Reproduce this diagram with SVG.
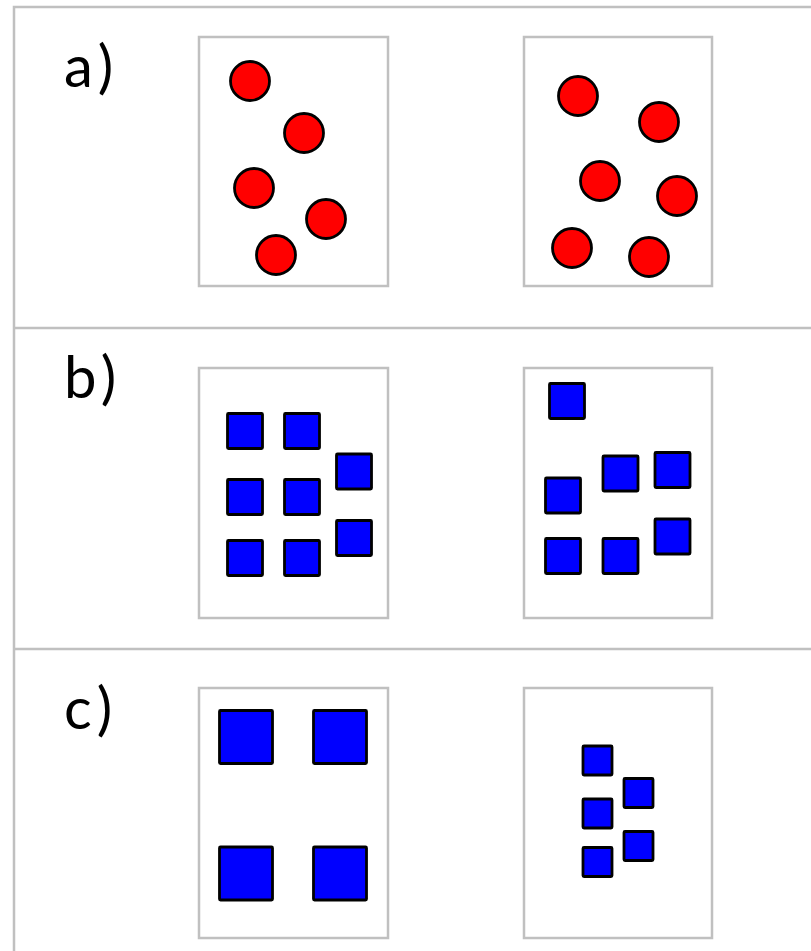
<svg xmlns="http://www.w3.org/2000/svg" width="811" height="951" viewBox="0 0 811 951">
<style>
.frame{fill:none;stroke:#c0c0c0;stroke-width:2.5}
.box{fill:#fff;stroke:#c0c0c0;stroke-width:2.5}
.dot{fill:#ff0000;stroke:#000;stroke-width:2.8}
.sq{fill:#0000ff;stroke:#000;stroke-width:2.8;rx:1}
.lbl{font-family:Lato,"Liberation Sans",sans-serif;font-size:58px;fill:#000;letter-spacing:6px}
</style>
<rect width="811" height="951" fill="#fff"/>
<g id="frame">
<rect class="frame" x="14" y="7" width="820" height="960"/>
<line class="frame" x1="14" y1="328" x2="811" y2="328"/>
<line class="frame" x1="14" y1="649" x2="811" y2="649"/>
</g>
<g id="row-a">
<text class="lbl" x="64" y="87">a)</text>
<rect class="box" x="199" y="37" width="189" height="249"/>
<rect class="box" x="524" y="37" width="188" height="249"/>
<circle class="dot" cx="250" cy="81" r="19.5"/>
<circle class="dot" cx="304" cy="133" r="19.5"/>
<circle class="dot" cx="254" cy="188" r="19.5"/>
<circle class="dot" cx="326" cy="219" r="19.5"/>
<circle class="dot" cx="276" cy="255" r="19.5"/>
<circle class="dot" cx="578" cy="96" r="19.5"/>
<circle class="dot" cx="659" cy="122" r="19.5"/>
<circle class="dot" cx="600" cy="181" r="19.5"/>
<circle class="dot" cx="677" cy="196" r="19.5"/>
<circle class="dot" cx="572" cy="248" r="19.5"/>
<circle class="dot" cx="649" cy="257" r="19.5"/>
</g>
<g id="row-b">
<text class="lbl" x="64" y="398">b)</text>
<rect class="box" x="199" y="368" width="189" height="250"/>
<rect class="box" x="524" y="368" width="188" height="250"/>
<rect class="sq" x="227.5" y="413.5" width="35" height="35"/>
<rect class="sq" x="284.5" y="413.5" width="35" height="35"/>
<rect class="sq" x="336.5" y="454" width="35" height="35"/>
<rect class="sq" x="227.5" y="479.5" width="35" height="35"/>
<rect class="sq" x="284.5" y="479.5" width="35" height="35"/>
<rect class="sq" x="336.5" y="520.5" width="35" height="35"/>
<rect class="sq" x="227.5" y="540.5" width="35" height="35"/>
<rect class="sq" x="284.5" y="540.5" width="35" height="35"/>
<rect class="sq" x="549.5" y="383.5" width="35" height="35"/>
<rect class="sq" x="603" y="456" width="35" height="35"/>
<rect class="sq" x="655" y="452.5" width="35" height="35"/>
<rect class="sq" x="545.5" y="478" width="35" height="35"/>
<rect class="sq" x="545.5" y="538.5" width="35" height="35"/>
<rect class="sq" x="603" y="538.5" width="35" height="35"/>
<rect class="sq" x="655" y="519" width="35" height="35"/>
</g>
<g id="row-c">
<text class="lbl" x="64" y="729">c)</text>
<rect class="box" x="199" y="688" width="189" height="250"/>
<rect class="box" x="524" y="688" width="188" height="250"/>
<rect class="sq" x="219.5" y="710.5" width="53" height="53"/>
<rect class="sq" x="313.5" y="710.5" width="53" height="53"/>
<rect class="sq" x="219.5" y="847" width="53" height="53"/>
<rect class="sq" x="313.5" y="847" width="53" height="53"/>
<rect class="sq" x="583" y="746" width="29" height="29"/>
<rect class="sq" x="624" y="778.5" width="29" height="29"/>
<rect class="sq" x="583" y="799" width="29" height="29"/>
<rect class="sq" x="624" y="831.5" width="29" height="29"/>
<rect class="sq" x="583" y="847.5" width="29" height="29"/>
</g>
</svg>
